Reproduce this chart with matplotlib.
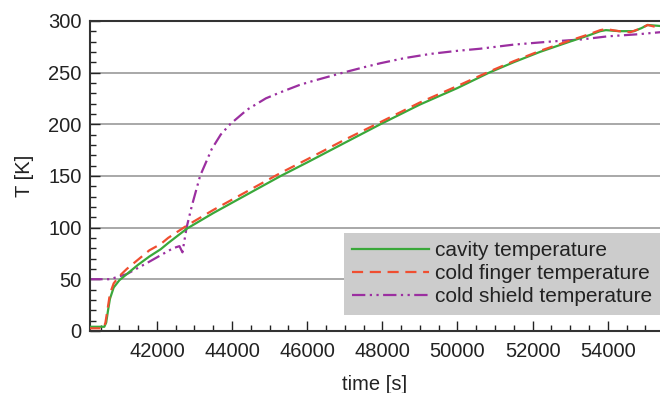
import numpy as np
import matplotlib.pyplot as plt
from matplotlib.ticker import MultipleLocator

plt.rcParams['font.family'] = ['Liberation Sans', 'DejaVu Sans']

# cavity temperature (green)
t_cav = [40200, 40600, 40650, 40700, 40750, 40850, 41000, 41200, 41500, 41800, 42100,
         42300, 42800, 43500, 44200, 45300, 46000, 47000, 47950, 49000, 50000, 50850,
         51500, 52200, 53000, 53500, 53800, 53950, 54300, 54700, 54900, 55060, 55400]
T_cav = [4, 4, 8, 20, 31, 42, 49, 55, 64, 72, 79,
         85, 99, 114, 128, 150, 163, 182, 200, 219, 235, 250,
         260, 270, 280, 286, 290, 291, 290, 290, 293, 296, 295]

# cold finger temperature (red)
t_cf = [40200, 40580, 40630, 40700, 40750, 40850, 41000, 41200, 41500, 41800, 42100,
        42300, 42800, 43500, 44200, 45300, 46000, 47000, 47950, 49000, 50000, 50850,
        51500, 52200, 53000, 53500, 53800, 53950, 54300, 54600, 54900, 55060, 55400]
T_cf = [2.5, 2.5, 8, 24, 36, 46, 53, 60, 69, 78, 84,
        90, 102, 117, 131, 153, 166, 185, 202, 221, 237, 251,
        261, 271, 281, 287, 291, 292, 290, 289, 293, 296, 293]

# cold shield temperature (purple)
t_cs = [40200, 40750, 41200, 41800, 42430, 42600, 42680, 42790, 42930, 43150, 43460,
        43700, 43950, 44400, 44900, 45300, 45800, 46170, 46970, 47500, 47950, 48600,
        49280, 50000, 50600, 51500, 52500, 53300, 54000, 54800, 55400]
T_cs = [50, 50, 55, 67, 80, 82, 76, 100, 121, 150, 176,
        190, 200, 214, 225, 231, 238, 242, 250, 255, 259, 264,
        268, 271, 273, 277, 280, 282, 285, 287, 289]

fig = plt.figure(figsize=(6.6, 3.93), dpi=100)
ax = fig.add_axes([0.136, 0.158, 0.864, 0.789])

ax.plot(t_cav, T_cav, color='#3aa83a', lw=1.6, label='cavity temperature', zorder=3)
ax.plot(t_cf, T_cf, color='#f04e30', lw=1.6, dashes=(5, 3), label='cold finger temperature', zorder=4)
ax.plot(t_cs, T_cs, color='#9b2fa0', lw=1.6, dashes=(6, 2, 1, 2, 1, 2),
        label='cold shield temperature', zorder=2)

ax.set_xlim(40213, 55390)
ax.set_ylim(0, 300)
ax.xaxis.set_major_locator(MultipleLocator(2000))
ax.xaxis.set_minor_locator(MultipleLocator(500))
ax.yaxis.set_major_locator(MultipleLocator(50))
ax.yaxis.set_minor_locator(MultipleLocator(10))
ax.tick_params(which='both', direction='in', top=False, right=False, labelsize=14.5,
               colors='#222222', width=1)
ax.tick_params(which='major', length=7)
ax.tick_params(which='minor', length=4)
ax.tick_params(axis='x', pad=8)
ax.tick_params(axis='y', pad=6)
ax.grid(axis='y', which='major', color='#999999', lw=1.2)
ax.set_axisbelow(True)
ax.spines['right'].set_visible(False)
for s in ['left', 'bottom', 'top']:
    ax.spines[s].set_color('#333333')
    ax.spines[s].set_linewidth(1.5)

ax.set_xlabel('time [s]', fontsize=14.5, color='#222222', labelpad=10)
ax.set_ylabel('T [K]', fontsize=14.5, color='#222222', labelpad=10)

leg = ax.legend(loc='lower right', bbox_to_anchor=(1.0, 0.052), fontsize=15,
                frameon=True, fancybox=False, facecolor='#cccccc', edgecolor='none',
                framealpha=1, handlelength=3.7, handletextpad=0.25, labelspacing=0.2,
                borderpad=0.4, borderaxespad=0)
for txt in leg.get_texts():
    txt.set_color('#222222')

fig.savefig('out.png', dpi=100)
